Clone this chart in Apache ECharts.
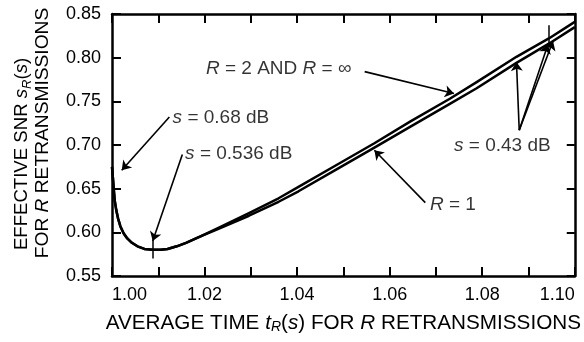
<!DOCTYPE html>
<html>
<head>
<meta charset="utf-8">
<script src="https://cdn.jsdelivr.net/npm/echarts@6/dist/echarts.min.js"></script>
<style>
  html, body { margin: 0; padding: 0; background: #fff; }
  #chart { width: 584px; height: 342px; }
</style>
</head>
<body>
<div id="chart"></div>
<script>
// curve R = 2 and R = infinity (upper)
var xUpper = [1.0000, 1.0002, 1.0004, 1.0006, 1.0009, 1.0013, 1.0018, 1.0025, 1.0033, 1.0043, 1.0055, 1.0070, 1.0088, 1.0105, 1.0120, 1.0140, 1.0160, 1.0190, 1.0230, 1.0296, 1.0360, 1.0403, 1.0488, 1.0567, 1.0645, 1.0730, 1.0788, 1.0874, 1.0944, 1.1000];
var yUpper = [0.675, 0.662, 0.648, 0.636, 0.626, 0.616, 0.607, 0.599, 0.593, 0.588, 0.584, 0.581, 0.580, 0.580, 0.581, 0.584, 0.588, 0.595, 0.605, 0.622, 0.639, 0.652, 0.678, 0.702, 0.727, 0.753, 0.772, 0.801, 0.822, 0.841];
// curve R = 1 (lower)
var xLower = [1.0000, 1.0002, 1.0004, 1.0006, 1.0009, 1.0013, 1.0018, 1.0025, 1.0033, 1.0043, 1.0055, 1.0070, 1.0088, 1.0105, 1.0120, 1.0140, 1.0160, 1.0190, 1.0230, 1.0296, 1.0360, 1.0403, 1.0488, 1.0567, 1.0645, 1.0730, 1.0788, 1.0874, 1.0944, 1.1000];
var yLower = [0.675, 0.662, 0.648, 0.636, 0.626, 0.616, 0.607, 0.599, 0.593, 0.588, 0.584, 0.581, 0.580, 0.580, 0.581, 0.584, 0.588, 0.595, 0.604, 0.619, 0.635, 0.647, 0.673, 0.697, 0.721, 0.747, 0.765, 0.794, 0.816, 0.835];

var xTicks = [1.00, 1.10, 0.01];
var yTicks = [0.55, 0.85, 0.05];

// annotation texts: [x, y, text]
var notes = [
  [1.0131, 0.731, '{i|s} = 0.68 dB'],
  [1.0158, 0.690, '{i|s} = 0.536 dB'],
  [1.0203, 0.787, '{i|R} = 2 AND {i|R} = ∞'],
  [1.0687, 0.632, '{i|R} = 1'],
  [1.0739, 0.699, '{i|s} = 0.43 dB']
];
// arrows: [x1, y1, x2, y2] (tip at x2, y2)
var arrows = [
  [1.0124, 0.732, 1.0021, 0.671],
  [1.0152, 0.689, 1.0088, 0.590],
  [1.0546, 0.784, 1.0739, 0.759],
  [1.0677, 0.634, 1.0567, 0.694],
  [1.0880, 0.717, 1.0874, 0.795],
  [1.0880, 0.717, 1.0942, 0.815],
  [1.0880, 0.717, 1.0953, 0.819]
];
// small marks across the curves
var marks = [
  [1.0088, 0.591, 1.0088, 0.570],
  [1.0944, 0.837, 1.0944, 0.812]
];

function pairs(xs, ys) {
  var out = [];
  for (var i = 0; i < xs.length; i++) out.push([xs[i], ys[i]]);
  return out;
}
function segs(list) {
  return list.map(function (a) { return { coords: [[a[0], a[1]], [a[2], a[3]]] }; });
}

var font = 'Liberation Sans';
var chart = echarts.init(document.getElementById('chart'));

var axisCommon = {
  type: 'value',
  axisLine: { show: true, lineStyle: { color: '#000', width: 2.5 } },
  axisTick: { show: true, inside: true, length: 9, lineStyle: { color: '#000', width: 2 } },
  splitLine: { show: false }
};

function nameStyle(size, pad) {
  return {
    color: '#000', fontFamily: font, fontSize: size, lineHeight: 25,
    padding: pad,
    rich: {
      i: { fontStyle: 'italic', fontFamily: font, fontSize: size, color: '#000' },
      sub: { fontStyle: 'italic', fontFamily: font, fontSize: 13, color: '#000', verticalAlign: 'bottom', padding: [6, 0, 0, 0] }
    }
  };
}

var option = {
  animation: false,
  backgroundColor: '#fff',
  grid: { left: 112, right: 5, top: 14, bottom: 66 },
  xAxis: [
    Object.assign({}, axisCommon, {
      min: xTicks[0], max: xTicks[1], interval: xTicks[2],
      position: 'bottom',
      name: 'AVERAGE TIME {i|t}{sub|R}({i|s}) FOR {i|R} RETRANSMISSIONS',
      nameLocation: 'middle',
      nameGap: 37,
      nameTextStyle: {
        color: '#000', fontFamily: font, fontSize: 20.7,
        rich: {
          i: { fontStyle: 'italic', fontFamily: font, fontSize: 20.7, color: '#000' },
          sub: { fontStyle: 'italic', fontFamily: font, fontSize: 14, color: '#000', verticalAlign: 'bottom', padding: [6, 0, 0, 0] }
        }
      },
      axisLabel: {
        color: '#000', fontFamily: font, fontSize: 18, margin: 10,
        alignMinLabel: 'left', alignMaxLabel: 'right',
        formatter: function (v) {
          var k = Math.round(v * 100);
          return k % 2 === 0 ? v.toFixed(2) : '';
        }
      }
    }),
    Object.assign({}, axisCommon, {
      min: xTicks[0], max: xTicks[1], interval: xTicks[2],
      position: 'top',
      axisLabel: { show: false }
    })
  ],
  yAxis: [
    Object.assign({}, axisCommon, {
      min: yTicks[0], max: yTicks[1], interval: yTicks[2],
      position: 'left',
      name: 'FOR {i|R} RETRANSMISSIONS',
      nameLocation: 'middle',
      nameRotate: 90,
      nameGap: 54,
      nameTextStyle: nameStyle(19.2, [0, 0, 0, 24]),
      axisLabel: {
        color: '#000', fontFamily: font, fontSize: 18, margin: 11,
        formatter: function (v) { return v.toFixed(2); }
      }
    }),
    Object.assign({}, axisCommon, {
      min: yTicks[0], max: yTicks[1], interval: yTicks[2],
      position: 'right',
      axisTick: { show: true, inside: true, length: 8, lineStyle: { color: '#000', width: 2 } },
      axisLabel: { show: false }
    }),
    {
      type: 'value',
      min: yTicks[0], max: yTicks[1], interval: yTicks[2],
      position: 'left',
      axisLine: { show: false },
      axisTick: { show: false },
      axisLabel: { show: false },
      splitLine: { show: false },
      name: 'EFFECTIVE SNR {i|s}{sub|R}({i|s})',
      nameLocation: 'middle',
      nameRotate: 90,
      nameGap: 78,
      nameTextStyle: nameStyle(18.6, [0, 18, 0, 0])
    }
  ],
  series: [
    {
      name: 'R = 2 AND R = ∞',
      type: 'line',
      data: pairs(xUpper, yUpper),
      showSymbol: false,
      smooth: false,
      lineStyle: { color: '#000', width: 2.5, join: 'round' },
      z: 3
    },
    {
      name: 'R = 1',
      type: 'line',
      data: pairs(xLower, yLower),
      showSymbol: false,
      smooth: false,
      lineStyle: { color: '#000', width: 2.5, join: 'round' },
      z: 3
    },
    {
      type: 'lines',
      coordinateSystem: 'cartesian2d',
      data: segs(arrows),
      symbol: ['none', 'arrow'],
      symbolSize: [0, 9],
      lineStyle: { color: '#000', width: 1.6, opacity: 1 },
      silent: true,
      z: 4
    },
    {
      type: 'lines',
      coordinateSystem: 'cartesian2d',
      data: segs(marks),
      symbol: ['none', 'none'],
      lineStyle: { color: '#000', width: 1.5, opacity: 1 },
      silent: true,
      z: 4
    },
    {
      type: 'scatter',
      data: notes,
      symbolSize: 0,
      silent: true,
      label: {
        show: true,
        position: 'right',
        distance: 0,
        color: '#000',
        fontFamily: font,
        fontSize: 19,
        formatter: function (p) { return p.data[2]; },
        rich: {
          i: { fontStyle: 'italic', fontFamily: font, fontSize: 19, color: '#000' }
        }
      },
      z: 5
    }
  ]
};
chart.setOption(option);
</script>
</body>
</html>
